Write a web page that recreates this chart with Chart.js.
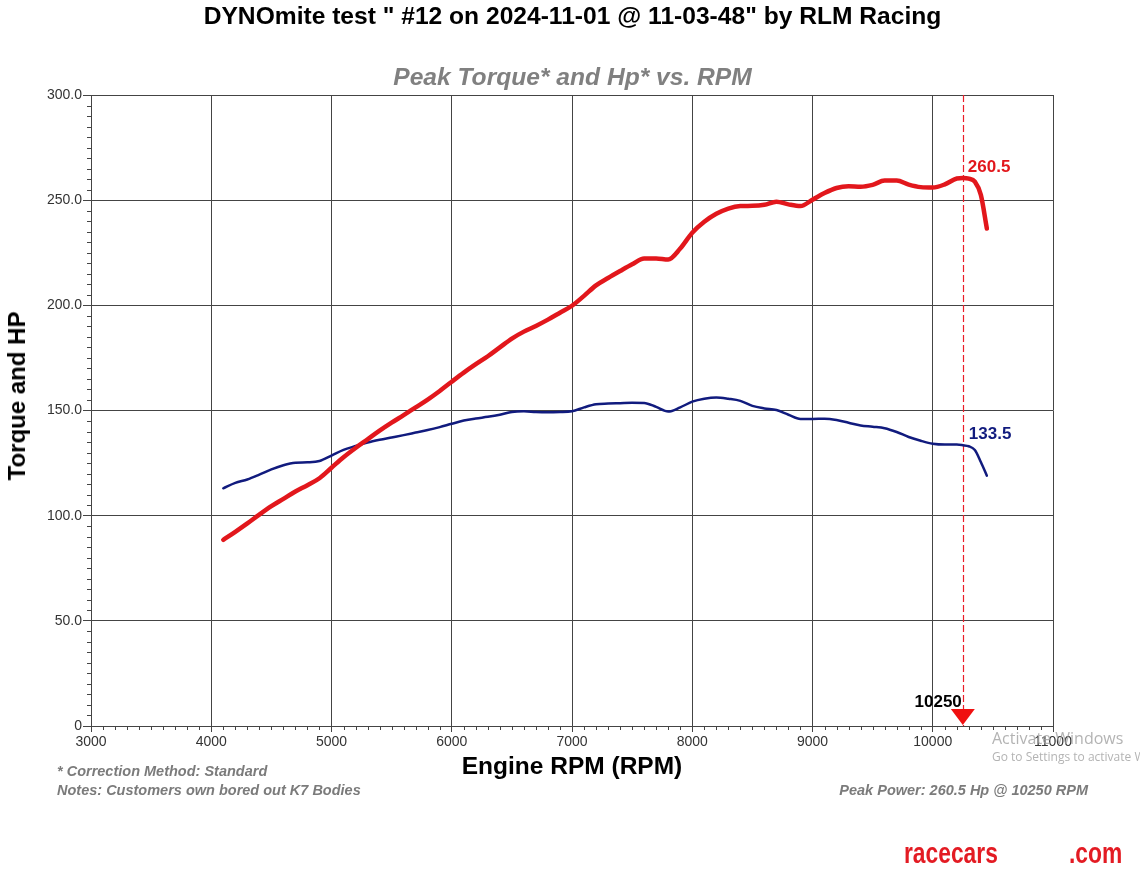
<!DOCTYPE html>
<html><head><meta charset="utf-8">
<script src="https://cdn.jsdelivr.net/npm/chart.js@4.4.0/dist/chart.umd.min.js"></script>
<style>
html,body{margin:0;padding:0;background:#fff;}
#wrap{position:relative;width:1140px;height:882px;overflow:hidden;font-family:"Liberation Sans",Arial,sans-serif;}
#c{position:absolute;left:0;top:0;}
.t{position:absolute;white-space:nowrap;}
.note{font-weight:bold;font-style:italic;font-size:14.5px;color:#7b7b7b;line-height:18px;}
.rc{font-family:'Liberation Sans Narrow','Liberation Sans',sans-serif;font-weight:bold;font-size:30px;line-height:34px;color:#e31b23;transform:scaleX(0.76);transform-origin:left center;}
</style></head><body>
<div id="wrap">
<canvas id="c" width="1140" height="882"></canvas>
<div class="t" style="left:0;width:1145px;top:2px;line-height:28px;text-align:center;font-weight:bold;font-size:24.6px;color:#000;">DYNOmite test " #12 on 2024-11-01 @ 11-03-48" by RLM Racing</div>
<div class="t" style="left:0;width:1145px;top:63px;line-height:28px;text-align:center;font-weight:bold;font-style:italic;font-size:24.6px;color:#808080;">Peak Torque* and Hp* vs. RPM</div>
<div class="t" style="left:17px;top:396px;transform:translate(-50%,-50%) rotate(-90deg);font-weight:bold;font-size:24px;line-height:28px;color:#000;">Torque and HP</div>
<div class="t note" style="left:57px;top:762px;">* Correction Method: Standard</div>
<div class="t note" style="left:57px;top:781px;">Notes: Customers own bored out K7 Bodies</div>
<div class="t note" style="right:52px;top:781px;">Peak Power: 260.5 Hp @ 10250 RPM</div>
<div class="t" style="left:992px;top:728px;font-family:'Open Sans',sans-serif;font-size:16px;line-height:20px;color:rgba(160,160,160,0.8);">Activate Windows</div>
<div class="t" style="left:992px;top:749px;font-family:'Open Sans',sans-serif;font-size:12px;line-height:16px;color:rgba(160,160,160,0.8);">Go to Settings to activate Windows.</div>
<div class="t rc" style="left:904px;top:836px;">racecars</div>
<div class="t rc" style="left:1069px;top:836px;">.com</div>
</div>
<script>
const rpm = [4100,4200,4300,4400,4500,4600,4700,4800,4900,5000,5100,5200,5300,5400,5500,5600,5700,5800,5900,6000,
  6100,6200,6300,6400,6500,6600,6700,6800,6900,7000,7100,7200,7300,7400,7500,7600,7700,7800,7900,8000,
  8100,8200,8300,8400,8500,8600,8700,8800,8900,9000,9100,9200,9300,9400,9500,9600,9700,9800,9900,10000,
  10100,10200,10250,10300,10350,10400,10450];
const hp = [88.5,92.3,96.3,100.5,104.5,108,111.5,114.5,117.8,122.8,127.8,132.2,136.3,140.4,144.2,147.8,151.5,155.2,159.3,163.7,
  168,172,175.8,180,184.2,187.5,190.2,193.2,196.5,199.8,204.5,209.5,213,216.3,219.5,222.3,222.3,221.8,227,234.5,
  239.7,243.5,246,247.2,247.3,247.8,249.3,248,247.2,250.2,253.4,255.8,256.6,256.4,257.3,259.3,259.3,257.4,256.2,256,
  257.5,260.3,260.5,260.2,258.8,252.5,236.5];
const torque = [113,115.6,117.2,119.5,122,124,125.2,125.4,126,128.6,131.3,133.1,134.8,136.1,137.2,138.3,139.5,140.7,142.1,143.7,
  145.2,146.2,147,148,149.3,149.6,149.3,149.2,149.3,149.6,151.5,153,153.3,153.5,153.7,153.6,151.7,149.5,151.5,154.2,
  155.6,156.2,155.6,154.6,152.2,151,150.2,148,146,146,146.1,145.5,144.2,142.9,142.3,141.6,139.8,137.4,135.6,134.2,
  133.8,133.8,133.5,133,131.2,125.5,119];
const xTickValues = [3000,4000,5000,6000,7000,8000,9000,10000,11000];
const xTickLabels = ['3000','4000','5000','6000','7000','8000','9000','10000','11000'];
const yTickValues = [0,50,100,150,200,250,300];
const yTickLabels = ['0','50.0','100.0','150.0','200.0','250.0','300.0'];
const peakRpm = 10250;
const peakLabel = '10250';

const RED = '#e2171c', NAVY = '#111b7e';
const FONT = '"Liberation Sans", Arial, sans-serif';
const peakIdx = rpm.indexOf(peakRpm);

const minorTicks = {
  id: 'minorTicks',
  afterDraw(chart) {
    const {ctx, chartArea: a, scales: {x, y}} = chart;
    ctx.save();
    ctx.strokeStyle = '#444'; ctx.lineWidth = 1;
    ctx.beginPath();
    for (let v = 3100; v < 11000; v += 100) {
      if (v % 1000 === 0) continue;
      const px = Math.round(x.getPixelForValue(v)) + 0.5;
      ctx.moveTo(px, a.bottom); ctx.lineTo(px, a.bottom + 4);
    }
    for (let v = 5; v < 300; v += 5) {
      if (v % 50 === 0) continue;
      const py = Math.round(y.getPixelForValue(v)) + 0.5;
      ctx.moveTo(a.left - 4, py); ctx.lineTo(a.left, py);
    }
    ctx.stroke();
    ctx.restore();
  }
};

const peakMark = {
  id: 'peakMark',
  beforeDatasetsDraw(chart) {
    const {ctx, chartArea: a, scales: {x}} = chart;
    const px = Math.round(x.getPixelForValue(peakRpm)) + 0.5;
    ctx.save();
    ctx.strokeStyle = 'rgb(235,30,40)'; ctx.lineWidth = 1.2;
    ctx.setLineDash([7, 3]);
    ctx.beginPath(); ctx.moveTo(px, a.top); ctx.lineTo(px, a.bottom); ctx.stroke();
    ctx.restore();
  },
  afterDatasetsDraw(chart) {
    const {ctx, chartArea: a, scales: {x, y}} = chart;
    const px = x.getPixelForValue(peakRpm);
    ctx.save();
    ctx.fillStyle = '#f01010';
    ctx.beginPath();
    ctx.moveTo(px - 12, a.bottom - 17); ctx.lineTo(px + 12, a.bottom - 17); ctx.lineTo(px, a.bottom - 1);
    ctx.closePath(); ctx.fill();
    ctx.font = 'bold 17px ' + FONT;
    ctx.textBaseline = 'alphabetic';
    ctx.fillStyle = '#000'; ctx.textAlign = 'right';
    ctx.fillText(peakLabel, px - 1, a.bottom - 19);
    ctx.textAlign = 'left';
    ctx.fillStyle = RED;
    ctx.fillText(hp[peakIdx].toFixed(1), px + 5, y.getPixelForValue(hp[peakIdx]) - 6);
    ctx.fillStyle = NAVY;
    ctx.fillText(torque[peakIdx].toFixed(1), px + 6, y.getPixelForValue(torque[peakIdx]) - 6);
    ctx.restore();
  }
};

new Chart(document.getElementById('c'), {
  type: 'line',
  data: {
    labels: rpm,
    datasets: [
      {label: 'Hp', data: rpm.map((r, i) => ({x: r, y: hp[i]})), borderColor: RED, borderWidth: 4.5, pointRadius: 0, cubicInterpolationMode: 'monotone', fill: false, borderCapStyle: 'round', borderJoinStyle: 'round'},
      {label: 'Torque', data: rpm.map((r, i) => ({x: r, y: torque[i]})), borderColor: NAVY, borderWidth: 2.5, pointRadius: 0, cubicInterpolationMode: 'monotone', fill: false, borderCapStyle: 'round', borderJoinStyle: 'round'}
    ]
  },
  options: {
    responsive: false,
    animation: false,
    devicePixelRatio: 1,
    layout: {padding: {top: 95, right: 87, bottom: 96, left: 0}},
    plugins: {legend: {display: false}, tooltip: {enabled: false}, title: {display: false}},
    scales: {
      x: {
        type: 'linear', min: 3000, max: 11000,
        afterBuildTicks: s => { s.ticks = xTickValues.map(v => ({value: v})); },
        afterFit: s => { s.height = 60; },
        grid: {color: '#444', lineWidth: 1, tickLength: 6, tickColor: '#444'},
        border: {color: '#444', width: 1},
        ticks: {color: '#333', font: {size: 14, family: FONT}, padding: 2, maxRotation: 0, autoSkip: false,
          callback: (v, i) => xTickLabels[i]},
        title: {display: true, text: 'Engine RPM (RPM)', color: '#000', font: {size: 24.5, weight: 'bold', family: FONT}, padding: {top: 0, bottom: 4}}
      },
      y: {
        type: 'linear', min: 0, max: 300,
        afterBuildTicks: s => { s.ticks = yTickValues.map(v => ({value: v})); },
        afterFit: s => { s.width = 91; },
        grid: {color: '#444', lineWidth: 1, tickLength: 8, tickColor: '#444'},
        border: {color: '#444', width: 1},
        ticks: {color: '#333', font: {size: 14, family: FONT}, padding: 1, autoSkip: false,
          callback: (v, i) => yTickLabels[i]}
      }
    }
  },
  plugins: [minorTicks, peakMark]
});
</script>
</body></html>
